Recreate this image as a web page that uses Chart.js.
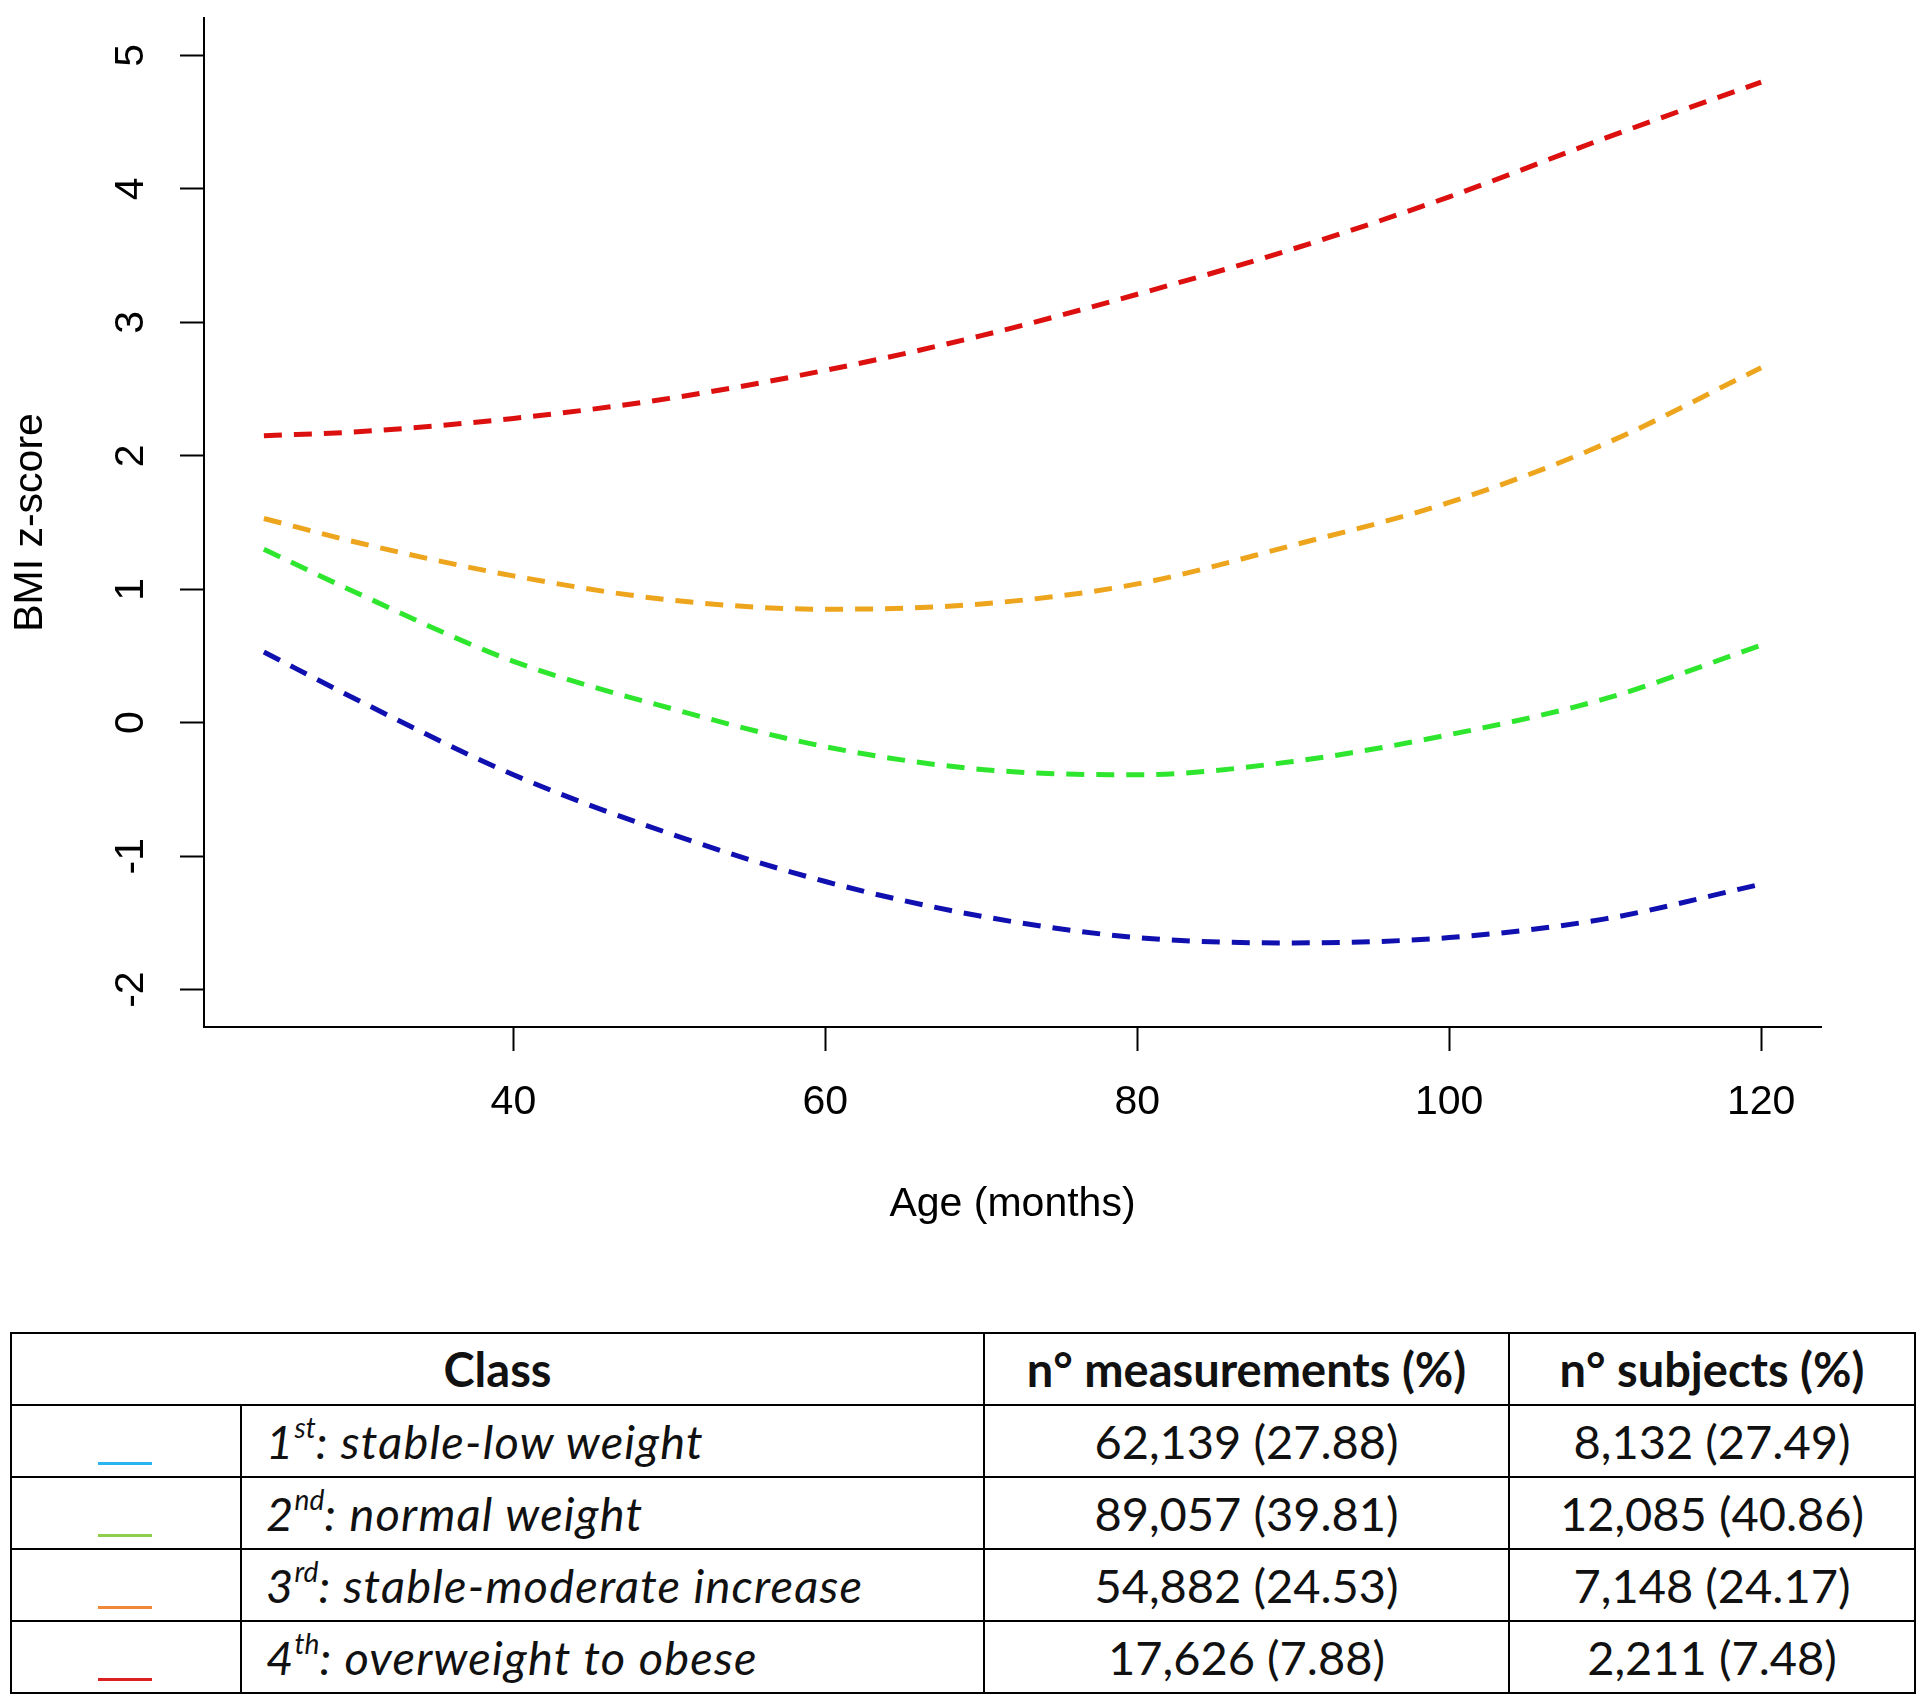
<!DOCTYPE html>
<html lang="en">
<head>
  <meta charset="UTF-8" />
  <title>BMI z-score trajectories by class</title>
  <script src="https://cdn.jsdelivr.net/npm/chart.js"></script>
  <style>
    html, body { margin: 0; padding: 0; background: #fff; }
    body { width: 1916px; height: 1702px; position: relative; overflow: hidden; }
    #trajChart { position: absolute; left: 0; top: 0; }
    #classTable {
      position: absolute; left: 10px; top: 1332px; width: 1904px;
      border-collapse: collapse; table-layout: fixed;
      font-family: Lato, "Open Sans", sans-serif; font-size: 47px; color: #111;
    }
    #classTable th, #classTable td { border: 2px solid #000; height: 70px; padding: 0; text-align: center; }
    #classTable th { font-weight: 700; }
    #classTable td.name { text-align: left; padding-left: 24px; font-style: italic; letter-spacing: 1.2px; }
    #classTable td.sw { vertical-align: top; }
    #classTable td.sw span { display: block; width: 54px; height: 3px; margin: 56px 0 0 86px; }
    #classTable sup { font-size: 0.6em; line-height: 0; vertical-align: 0.75em; letter-spacing: 0; }
  </style>
</head>
<body>
  <canvas id="trajChart" width="1916" height="1300"></canvas>
  <table id="classTable">
    <colgroup>
      <col style="width:230px"><col style="width:743px"><col style="width:525px"><col style="width:406px">
    </colgroup>
    <tbody id="classBody"></tbody>
  </table>

  <script>
    // ages (months) and fitted BMI z-score per trajectory class
    const ages   = [24, 30, 40, 50, 60, 70, 80, 90, 100, 110, 120];
    const class1 = [0.53, 0.17, -0.39, -0.83, -1.19, -1.45, -1.61, -1.65, -1.61, -1.47, -1.21];
    const class2 = [1.30, 0.97, 0.46, 0.11, -0.18, -0.35, -0.39, -0.29, -0.09, 0.18, 0.58];
    const class3 = [1.53, 1.35, 1.10, 0.92, 0.85, 0.89, 1.04, 1.33, 1.65, 2.09, 2.66];
    const class4 = [2.15, 2.18, 2.28, 2.43, 2.64, 2.90, 3.21, 3.55, 3.94, 4.38, 4.80];

    const xTicks = [40, 60, 80, 100, 120];
    const yTicks = [-2, -1, 0, 1, 2, 3, 4, 5];

    const lineColors = ['#1010b0', '#2fe62f', '#eea51e', '#dd1010'];

    // table beneath the plot
    const ordinals     = ['1', '2', '3', '4'];
    const suffixes     = ['st', 'nd', 'rd', 'th'];
    const classNames   = ['stable-low weight', 'normal weight', 'stable-moderate increase', 'overweight to obese'];
    const measurements = ['62,139 (27.88)', '89,057 (39.81)', '54,882 (24.53)', '17,626 (7.88)'];
    const subjects     = ['8,132 (27.49)', '12,085 (40.86)', '7,148 (24.17)', '2,211 (7.48)'];
    const swatchColors = ['#29b5f0', '#8ccf4d', '#f0883a', '#dc1f1f'];

    const FONT = '"Liberation Sans", Arial, sans-serif';
    const CANVAS_H = 1300;

    const body = document.getElementById('classBody');
    let html = '<tr><th colspan="2">Class</th><th>n° measurements (%)</th><th>n° subjects (%)</th></tr>';
    for (let i = 0; i < classNames.length; i++) {
      html += '<tr>' +
        '<td class="sw"><span style="background:' + swatchColors[i] + '"></span></td>' +
        '<td class="name">' + ordinals[i] + '<sup>' + suffixes[i] + '</sup>: ' + classNames[i] + '</td>' +
        '<td>' + measurements[i] + '</td>' +
        '<td>' + subjects[i] + '</td></tr>';
    }
    body.innerHTML = html;

    // y tick labels are drawn rotated, like base R graphics
    const yLabels = {
      id: 'yLabels',
      afterDraw(chart) {
        const c = chart.ctx, y = chart.scales.y;
        c.save();
        c.font = '41px ' + FONT;
        c.fillStyle = '#000';
        c.textAlign = 'center';
        c.textBaseline = 'middle';
        yTicks.forEach(v => {
          c.save();
          c.translate(132, y.getPixelForValue(v));
          c.rotate(-Math.PI / 2);
          c.fillText(String(v), 0, 0);
          c.restore();
        });
        c.restore();
      }
    };

    const series = [class1, class2, class3, class4];
    const datasets = series.map((vals, i) => ({
      label: 'Class ' + (i + 1),
      data: ages.map((a, j) => ({ x: a, y: vals[j] })),
      borderColor: lineColors[i],
      borderWidth: 5,
      borderDash: [18, 12],
      pointRadius: 0,
      fill: false,
      cubicInterpolationMode: 'monotone'
    }));

    new Chart(document.getElementById('trajChart').getContext('2d'), {
      type: 'line',
      data: { datasets },
      options: {
        responsive: false,
        animation: false,
        layout: { padding: { left: 0, top: 18, right: 95, bottom: 0 } },
        plugins: { legend: { display: false }, tooltip: { enabled: false } },
        scales: {
          x: {
            type: 'linear', min: 20.16, max: 123.84,
            afterBuildTicks: s => { s.ticks = xTicks.map(v => ({ value: v })); },
            afterFit: s => { s.height = CANVAS_H - 1027; },
            grid: { drawOnChartArea: false, drawTicks: true, tickLength: 24, tickWidth: 2, tickColor: '#000' },
            border: { display: true, color: '#000', width: 2 },
            ticks: { font: { family: FONT, size: 41 }, color: '#000', padding: 27, maxRotation: 0, autoSkip: false },
            title: { display: true, text: 'Age (months)', color: '#000', font: { family: FONT, size: 41 }, padding: { top: 0, bottom: 71 } }
          },
          y: {
            type: 'linear', min: -2.28, max: 5.28,
            afterBuildTicks: s => { s.ticks = yTicks.map(v => ({ value: v })); },
            afterFit: s => { s.width = 204; },
            grid: { drawOnChartArea: false, drawTicks: true, tickLength: 24, tickWidth: 2, tickColor: '#000' },
            border: { display: true, color: '#000', width: 2 },
            ticks: { display: false },
            title: { display: true, text: 'BMI z-score', color: '#000', font: { family: FONT, size: 41 }, padding: { top: 6, bottom: 0 } }
          }
        }
      },
      plugins: [yLabels]
    });
  </script>
</body>
</html>
